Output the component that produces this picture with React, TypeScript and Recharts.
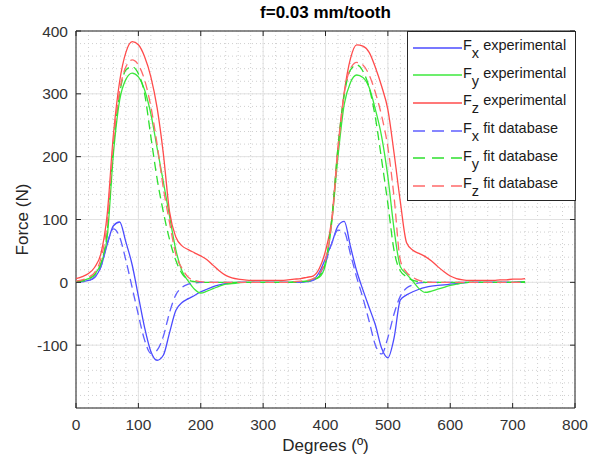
import { LineChart, Line, XAxis, YAxis, CartesianGrid, ReferenceArea } from "recharts";

// crank angle in degrees, two tooth passes
const degrees = [
  0, 10, 20, 30, 40, 50, 60, 70, 80, 90, 100, 110, 120, 130, 140, 150, 160, 170, 180, 190,
  200, 210, 220, 230, 240, 250, 260, 270, 280, 290, 300, 310, 320, 330, 340, 350, 360, 370,
  380, 390, 400, 410, 420, 430, 440, 450, 460, 470, 480, 490, 500, 510, 520, 530, 540, 550,
  560, 570, 580, 590, 600, 610, 620, 630, 640, 650, 660, 670, 680, 690, 700, 710, 720,
];

const fxExp = [
  0, 1, 3, 8, 25, 60, 90, 96, 64, 28, -22, -72, -110, -124, -116, -80, -45, -32, -26, -21,
  -15, -11, -7, -4, -2, -1, 0, 0, 0, 0, 0, 0, 0, 0, 0, 0, 0, 1,
  4, 16, 38, 62, 90, 97, 57, 18, -12, -40, -68, -105, -120, -88, -28, -20, -15, -11,
  -8, -6, -5, -4, -3, -2, -1, 0, 0, 0, 0, 0, 0, 0, 0, 0, 0,
];

const fyExp = [
  1, 3, 6, 13, 30, 72, 205, 290, 323, 333, 327, 306, 268, 214, 160, 105, 52, 18, 2, -11,
  -17, -14, -10, -6, -3, -2, -1, 0, 0, 0, 0, 0, 0, 0, 0, 1, 1, 2,
  4, 8, 28, 95, 200, 283, 318, 330, 326, 310, 275, 232, 168, 84, 25, 13, 2, -10,
  -16, -14, -11, -8, -5, -3, -1, 0, 0, 0, 0, 0, 0, 0, 0, 1, 1,
];

const fzExp = [
  6, 9, 14, 24, 46, 108, 235, 320, 366, 383, 378, 359, 327, 278, 205, 112, 72, 58, 52, 47,
  42, 36, 27, 18, 11, 7, 5, 4, 3, 3, 3, 3, 3, 3, 4, 5, 6, 8,
  10, 22, 50, 100, 215, 302, 356, 378, 376, 366, 342, 312, 275, 205, 128, 63, 51, 46,
  41, 34, 25, 17, 10, 6, 4, 3, 3, 3, 3, 3, 4, 4, 5, 5, 6,
];

const fxFit = [
  0, 1, 3, 8, 25, 62, 85, 72, 35, -8, -52, -92, -113, -108, -86, -48, -20, -8, -3, -1,
  0, 0, 0, 0, 0, 0, 0, 0, 0, 0, 0, 0, 0, 0, 0, 0, 0, 1,
  3, 12, 32, 62, 83, 80, 45, 8, -25, -62, -100, -114, -88, -50, -22, -9, -4, -1,
  0, 0, 0, 0, 0, 0, 0, 0, 0, 0, 0, 0, 0, 0, 0, 0, 0,
];

const fyFit = [
  1, 2, 5, 12, 30, 80, 215, 300, 338, 343, 332, 300, 232, 165, 112, 68, 35, 14, 4, 1,
  0, 0, 0, 0, 0, 0, 0, 0, 0, 0, 0, 0, 0, 0, 0, 0, 1, 2,
  4, 10, 32, 100, 215, 298, 338, 346, 336, 310, 262, 195, 125, 50, 18, 9, 3, 1,
  0, 0, 0, 0, 0, 0, 0, 0, 0, 0, 0, 0, 0, 0, 0, 0, 0,
];

const fzFit = [
  2, 4, 8, 16, 38, 95, 225, 305, 343, 354, 346, 322, 280, 220, 150, 95, 45, 22, 8, 3,
  1, 0, 0, 0, 0, 0, 0, 0, 0, 0, 0, 0, 0, 0, 0, 1, 2, 3,
  6, 14, 36, 95, 210, 300, 340, 350, 346, 330, 302, 265, 215, 135, 35, 16, 8, 3,
  1, 0, 0, 0, 0, 0, 0, 0, 0, 0, 0, 0, 0, 0, 0, 0, 0,
];

const xTicks = [0, 100, 200, 300, 400, 500, 600, 700, 800];
const yTicks = [-100, 0, 100, 200, 300, 400];
const majorY = [-200, -100, 0, 100, 200, 300, 400];

// dotted minor grid, 5 divisions per major step
const minorX = Array.from({ length: 41 }, (_, i) => i * 20);
const minorY = Array.from({ length: 31 }, (_, i) => -200 + i * 20);

const PLOT_LEFT = 76;
const PLOT_RIGHT = 575;
const PLOT_TOP = 31;
const PLOT_BOTTOM = 408;
const TICK_LEN = 5;
const AXIS_COLOR = "#262626";
const TEXT_COLOR = "#333";
const FONT = '"Liberation Sans", Arial, Helvetica, sans-serif';

const series = [
  { key: "fxExp", sub: "x", label: "experimental", color: "#4b4bff", dash: undefined },
  { key: "fyExp", sub: "y", label: "experimental", color: "#3ce83c", dash: undefined },
  { key: "fzExp", sub: "z", label: "experimental", color: "#ff4b4b", dash: undefined },
  { key: "fxFit", sub: "x", label: "fit database", color: "#5f5fff", dash: "9 5" },
  { key: "fyFit", sub: "y", label: "fit database", color: "#2ee02e", dash: "9 5" },
  { key: "fzFit", sub: "z", label: "fit database", color: "#ff6a6a", dash: "9 5" },
];

const data = degrees.map((deg, i) => ({
  deg,
  fxExp: fxExp[i],
  fyExp: fyExp[i],
  fzExp: fzExp[i],
  fxFit: fxFit[i],
  fyFit: fyFit[i],
  fzFit: fzFit[i],
}));

// MATLAB style: ticks point inward, on both sides of the box
const XTick = (props: any) => {
  const { x, payload } = props;
  return (
    <g>
      <line x1={x} x2={x} y1={PLOT_BOTTOM} y2={PLOT_BOTTOM - TICK_LEN} stroke={AXIS_COLOR} />
      <line x1={x} x2={x} y1={PLOT_TOP} y2={PLOT_TOP + TICK_LEN} stroke={AXIS_COLOR} />
      <text
        x={x}
        y={PLOT_BOTTOM + 11}
        dy="0.71em"
        textAnchor="middle"
        fontSize={15.5}
        fill={TEXT_COLOR}
        fontFamily={FONT}
      >
        {payload.value}
      </text>
    </g>
  );
};

const YTick = (props: any) => {
  const { y, payload } = props;
  return (
    <g>
      <line x1={PLOT_LEFT} x2={PLOT_LEFT + TICK_LEN} y1={y} y2={y} stroke={AXIS_COLOR} />
      <line x1={PLOT_RIGHT} x2={PLOT_RIGHT - TICK_LEN} y1={y} y2={y} stroke={AXIS_COLOR} />
      <text
        x={PLOT_LEFT - 8}
        y={y}
        dy="0.355em"
        textAnchor="end"
        fontSize={15.5}
        fill={TEXT_COLOR}
        fontFamily={FONT}
      >
        {payload.value}
      </text>
    </g>
  );
};

const LegendBox = () => (
  <div
    style={{
      position: "absolute",
      left: 407,
      top: 31,
      width: 169,
      height: 170,
      boxSizing: "border-box",
      border: `1px solid ${AXIS_COLOR}`,
      background: "#fff",
      paddingTop: 2,
      fontFamily: FONT,
    }}
  >
    {series.map((s) => (
      <div key={s.key} style={{ display: "flex", alignItems: "center", height: 27.6 }}>
        <svg width={55} height={6} style={{ flex: "none" }}>
          <line
            x1={5}
            x2={54}
            y1={3}
            y2={3}
            stroke={s.color}
            strokeWidth={1.3}
            strokeDasharray={s.dash ? "12 7" : undefined}
          />
        </svg>
        <span
          style={{
            position: "relative",
            top: -2.5,
            fontSize: 14.5,
            color: "#1a1a1a",
            whiteSpace: "nowrap",
          }}
        >
          F<span style={{ position: "relative", top: 8 }}>{s.sub}</span> {s.label}
        </span>
      </div>
    ))}
  </div>
);

export default function App() {
  return (
    <div
      style={{
        position: "absolute",
        left: 0,
        top: 0,
        width: 590,
        height: 461,
        background: "#fff",
        fontFamily: FONT,
      }}
    >
      <LineChart
        width={590}
        height={461}
        data={data}
        margin={{ top: PLOT_TOP, right: 590 - PLOT_RIGHT, bottom: 0, left: 0 }}
      >
        <CartesianGrid
          stroke="#cfcfcf"
          strokeDasharray="1 3"
          verticalValues={minorX}
          horizontalValues={minorY}
        />
        <CartesianGrid stroke="#e2e2e2" verticalValues={xTicks} horizontalValues={majorY} />
        <XAxis
          dataKey="deg"
          type="number"
          domain={[0, 800]}
          ticks={xTicks}
          interval={0}
          axisLine={false}
          tickLine={false}
          tick={XTick}
          height={461 - PLOT_BOTTOM}
          label={{
            value: "Degrees (º)",
            position: "insideBottom",
            offset: 10,
            style: { fontSize: 17, fill: AXIS_COLOR, fontFamily: FONT },
          }}
        />
        <YAxis
          type="number"
          domain={[-200, 400]}
          ticks={yTicks}
          interval={0}
          axisLine={false}
          tickLine={false}
          tick={YTick}
          width={PLOT_LEFT}
          label={{
            value: "Force (N)",
            angle: -90,
            position: "insideLeft",
            offset: 22,
            style: { fontSize: 17, fill: AXIS_COLOR, fontFamily: FONT, textAnchor: "middle" },
          }}
        />
        {series.map((s) => (
          <Line
            key={s.key}
            dataKey={s.key}
            type="monotone"
            stroke={s.color}
            strokeWidth={1.3}
            strokeDasharray={s.dash}
            dot={false}
            activeDot={false}
            isAnimationActive={false}
          />
        ))}
        <ReferenceArea
          x1={0}
          x2={800}
          y1={-200}
          y2={400}
          fill="none"
          stroke={AXIS_COLOR}
          strokeWidth={1}
        />
      </LineChart>
      <div
        style={{
          position: "absolute",
          left: PLOT_LEFT,
          width: PLOT_RIGHT - PLOT_LEFT,
          top: 3,
          lineHeight: "20px",
          textAlign: "center",
          fontWeight: "bold",
          fontSize: 17,
          color: "#000",
        }}
      >
        f=0.03 mm/tooth
      </div>
      <LegendBox />
    </div>
  );
}
